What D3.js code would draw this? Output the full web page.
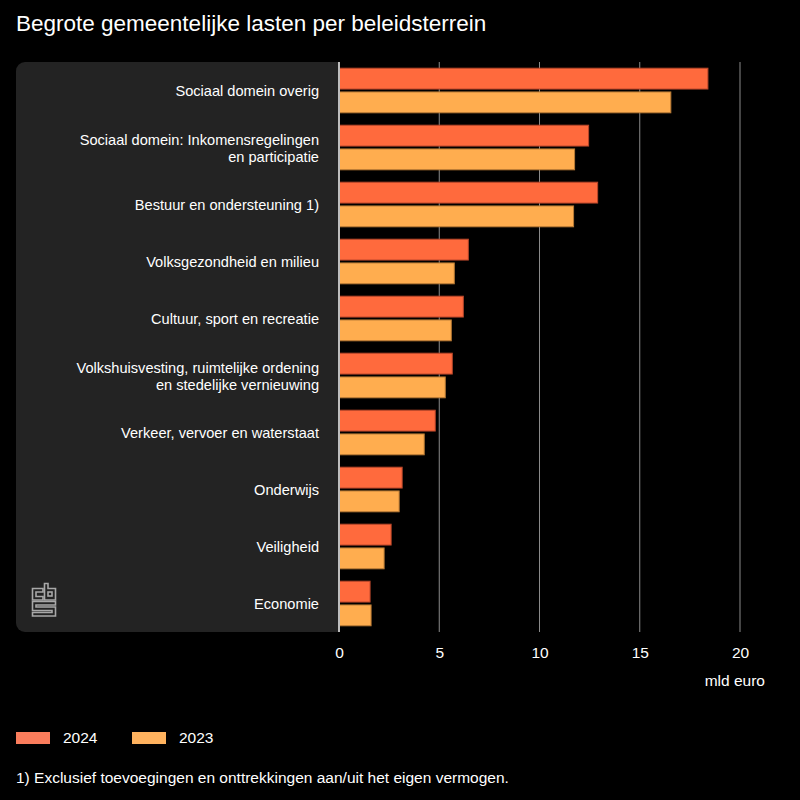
<!DOCTYPE html>
<html><head><meta charset="utf-8">
<script src="https://cdn.jsdelivr.net/npm/d3@7"></script>
<style>
html,body{margin:0;padding:0;background:#000;}
svg{display:block;font-family:"Liberation Sans",Arial,Helvetica,sans-serif;}
</style></head>
<body>
<svg id="chart" width="800" height="800"></svg>
<script>
const title = "Begrote gemeentelijke lasten per beleidsterrein";
const categories = [
  ["Sociaal domein overig"],
  ["Sociaal domein: Inkomensregelingen","en participatie"],
  ["Bestuur en ondersteuning 1)"],
  ["Volksgezondheid en milieu"],
  ["Cultuur, sport en recreatie"],
  ["Volkshuisvesting, ruimtelijke ordening","en stedelijke vernieuwing"],
  ["Verkeer, vervoer en waterstaat"],
  ["Onderwijs"],
  ["Veiligheid"],
  ["Economie"]
];
const seriesNames = ["2024","2023"];
const values2024 = [18.4, 12.45, 12.9, 6.45, 6.2, 5.65, 4.8, 3.15, 2.6, 1.55];
const values2023 = [16.55, 11.75, 11.7, 5.75, 5.6, 5.3, 4.25, 3.0, 2.25, 1.6];
const xTicks = [0, 5, 10, 15, 20];
const xUnit = "mld euro";
const footnote = "1) Exclusief toevoegingen en onttrekkingen aan/uit het eigen vermogen.";

const colors = {"2024":"#ff6a3d","2023":"#ffad4f"};
const strokes = {"2024":"#b8462a","2023":"#b87a35"};
const legendColors = {"2024":"#fa7d5c","2023":"#ffb25e"};

const svg = d3.select("#chart");
svg.append("rect").attr("width",800).attr("height",800).attr("fill","#000");

const yTop = 62, yBottom = 632, x0 = 339;
const x = d3.scaleLinear().domain([0,20]).range([x0, 740]);
const keys = categories.map(c=>c.join(" "));
const y = d3.scaleBand().domain(keys).range([yTop,yBottom]).paddingInner(0.2).paddingOuter(0.1);
const ys = d3.scaleBand().domain(seriesNames).range([0,y.bandwidth()]).paddingInner(0.08);

// title
svg.append("text").attr("x",16).attr("y",31).attr("fill","#fff").attr("font-size",22.5).text(title);

// label panel
const panel = d3.path();
const r = 9, px0 = 16, px1 = x0;
panel.moveTo(px0+r, yTop);
panel.lineTo(px1, yTop);
panel.lineTo(px1, yBottom);
panel.lineTo(px0+r, yBottom);
panel.arcTo(px0, yBottom, px0, yBottom-r, r);
panel.lineTo(px0, yTop+r);
panel.arcTo(px0, yTop, px0+r, yTop, r);
panel.closePath();
svg.append("path").attr("d",panel.toString()).attr("fill","#232323");

// gridlines
svg.append("g").selectAll("line").data(xTicks.filter(t=>t>0)).join("line")
  .attr("x1",d=>x(d)).attr("x2",d=>x(d)).attr("y1",yTop).attr("y2",yBottom)
  .attr("stroke","#8a8a8a").attr("stroke-width",1);

// x axis tick labels
const xAxis = d3.axisBottom(x).tickValues(xTicks).tickSize(0).tickPadding(0).tickFormat(d3.format("d"));
const gx = svg.append("g").attr("transform",`translate(0,${yBottom})`).call(xAxis);
gx.select(".domain").remove();
gx.selectAll("text").attr("fill","#fff").attr("font-size",15.5).attr("dy",null).attr("y",26)
  .attr("font-family","Liberation Sans, Arial, sans-serif");
svg.append("text").attr("x",765).attr("y",686).attr("text-anchor","end")
  .attr("fill","#fff").attr("font-size",15.5).text(xUnit);

// bars
const data = categories.map((c,i)=>({key:keys[i], lines:c, v:{"2024":values2024[i],"2023":values2023[i]}}));
const groups = svg.append("g").selectAll("g").data(data).join("g")
  .attr("transform",d=>`translate(0,${y(d.key)})`);
groups.selectAll("rect").data(d=>seriesNames.map(s=>({s, v:d.v[s]}))).join("rect")
  .attr("x",x(0)).attr("y",d=>ys(d.s)+0.5).attr("width",d=>x(d.v)-x(0)).attr("height",ys.bandwidth()-1)
  .attr("fill",d=>colors[d.s]).attr("stroke",d=>strokes[d.s]).attr("stroke-width",1);

// axis line
svg.append("line").attr("x1",x0).attr("x2",x0).attr("y1",yTop).attr("y2",yBottom)
  .attr("stroke","#bdbdbd").attr("stroke-width",2);

// category labels
data.forEach(d=>{
  const cy = y(d.key)+y.bandwidth()/2;
  const n = d.lines.length;
  const t = svg.append("text").attr("text-anchor","end").attr("fill","#fff").attr("font-size",14.6);
  d.lines.forEach((ln,j)=>{
    t.append("tspan").attr("x",319).attr("y",cy + 5.5 + (j-(n-1)/2)*17).text(ln);
  });
});

// cbs logo (outline)
const logo = svg.append("g").attr("fill","none").attr("stroke","#a8a8a8").attr("stroke-width",1.6);
logo.append("path").attr("d","M32.5,588.5 H43 V592 H36 V596.5 H43 V600 H32.5 Z");
logo.append("path").attr("d","M44.5,583.5 H48 V588.5 H55.5 V600 H44.5 Z");
logo.append("rect").attr("x",48).attr("y",592).attr("width",4).attr("height",4);
logo.append("path").attr("d","M32.5,601.5 H55.5 V605 H36 V607 H55.5 V616 H32.5 V612.5 H52 V610.5 H32.5 Z");

// legend
const leg = svg.append("g").attr("transform","translate(16,732)");
seriesNames.forEach((s,i)=>{
  const gx0 = i*116;
  leg.append("rect").attr("x",gx0).attr("y",0).attr("width",34).attr("height",12).attr("fill",legendColors[s]);
  leg.append("text").attr("x",gx0+47).attr("y",11).attr("fill","#fff").attr("font-size",15.5).text(s);
});

// footnote
svg.append("text").attr("x",16).attr("y",783).attr("fill","#fff").attr("font-size",15.5).text(footnote);
</script>
</body></html>
